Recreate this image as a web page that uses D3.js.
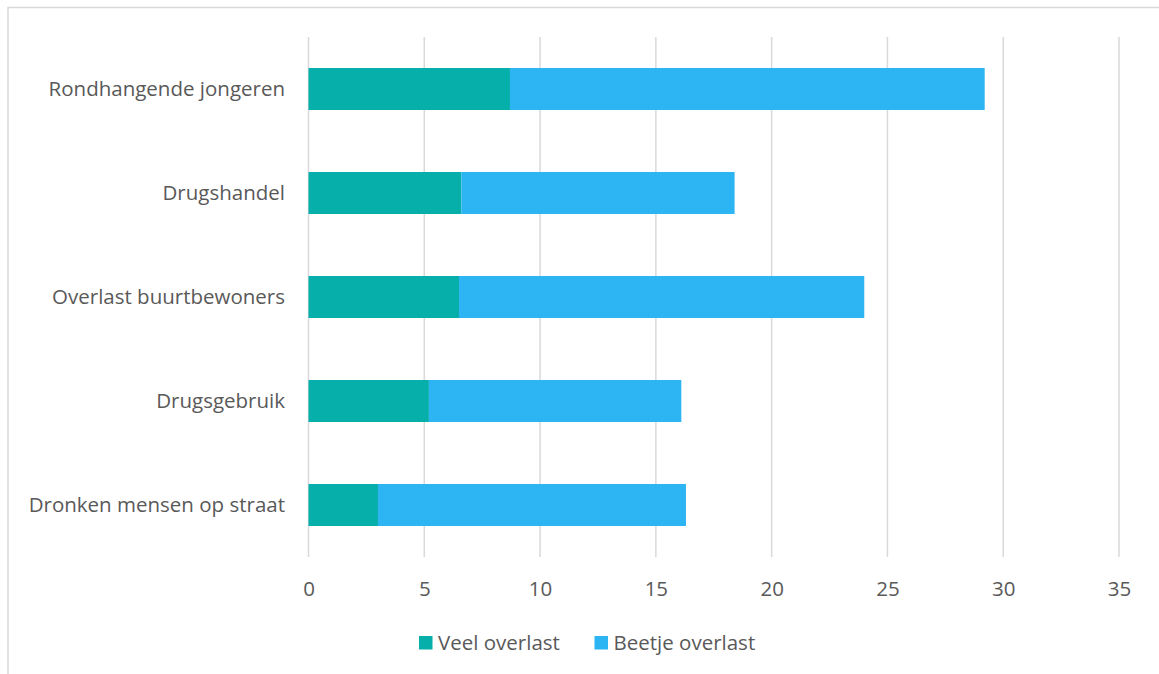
<!DOCTYPE html>
<html><head><meta charset="utf-8">
<script src="https://cdn.jsdelivr.net/npm/d3@7"></script>
<style>body{margin:0;background:#fff;} text{font-family:"Open Sans",sans-serif;}</style>
</head><body>
<svg id="c" width="1159" height="674"></svg>
<script>
const categories = ["Rondhangende jongeren","Drugshandel","Overlast buurtbewoners","Drugsgebruik","Dronken mensen op straat"];
const veel = [8.7, 6.6, 6.5, 5.2, 3.0];
const beetje = [20.5, 11.8, 17.5, 10.9, 13.3];
const seriesNames = ["Veel overlast","Beetje overlast"];
const colors = ["#06AFAA","#2DB4F2"];
const xTicks = [0,5,10,15,20,25,30,35];

const FS = 20.5;
const svg = d3.select("#c");
svg.append("rect").attr("x",8).attr("y",7.5).attr("width",1160).attr("height",680)
  .attr("fill","none").attr("stroke","#d9d9d9").attr("stroke-width",1.5);

const x = d3.scaleLinear().domain([0,35]).range([308.5,1119]);
const y = d3.scaleBand().domain(categories).range([37,557]).paddingInner(0.596).paddingOuter(0.298);

// gridlines
svg.append("g").selectAll("line").data(xTicks).join("line")
  .attr("x1",d=>x(d)).attr("x2",d=>x(d)).attr("y1",37).attr("y2",557)
  .attr("stroke","#d9d9d9").attr("stroke-width",1.5);

const rows = categories.map((c,i)=>({c, v:[veel[i], beetje[i]]}));
const g = svg.append("g");
rows.forEach(r=>{
  let acc = 0;
  r.v.forEach((v,k)=>{
    g.append("rect").attr("x",x(acc)).attr("y",y(r.c)).attr("width",x(acc+v)-x(acc))
      .attr("height",y.bandwidth()).attr("fill",colors[k]);
    acc += v;
  });
});

// category labels
svg.append("g").selectAll("text").data(categories).join("text")
  .attr("x",285).attr("y",d=>y(d)+y.bandwidth()/2).attr("dy","0.35em")
  .attr("text-anchor","end").attr("font-size",FS).attr("fill","#595959").text(d=>d);

// x axis labels
const xa = svg.append("g").attr("transform","translate(0,589)")
  .call(d3.axisBottom(x).tickValues(xTicks).tickSize(0).tickPadding(0));
xa.select(".domain").remove();
xa.selectAll("text").attr("font-size",FS).attr("fill","#595959").attr("font-family","Open Sans").attr("dy","0.35em").attr("y",0);

// legend
const legX = [419, 594.5];
seriesNames.forEach((s,k)=>{
  svg.append("rect").attr("x",legX[k]).attr("y",636).attr("width",13.5).attr("height",13.5).attr("fill",colors[k]);
  svg.append("text").attr("x",legX[k]+19).attr("y",642.5).attr("dy","0.35em")
    .attr("font-size",FS).attr("fill","#595959").text(s);
});
</script>
</body></html>
